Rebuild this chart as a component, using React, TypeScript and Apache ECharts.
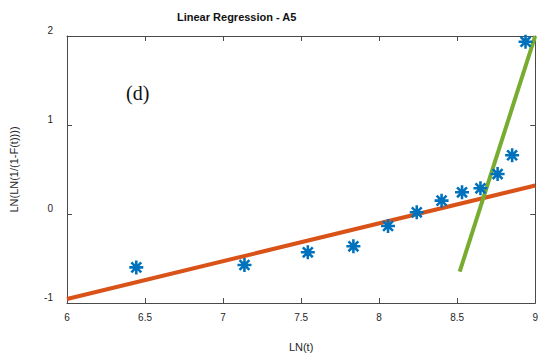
import React, { useEffect, useRef } from "react";
import * as echarts from "echarts";

const xTicks = [6, 6.5, 7, 7.5, 8, 8.5, 9];
const yTicks = [-1, 0, 1, 2];
const lnT = [6.444, 7.137, 7.543, 7.835, 8.057, 8.241, 8.4, 8.531, 8.649, 8.759, 8.852, 8.938];
const lnLnF = [-0.6, -0.573, -0.43, -0.363, -0.135, 0.019, 0.15, 0.244, 0.289, 0.449, 0.66, 1.936];
const fitAllX = [6, 9];
const fitAllY = [-0.955, 0.32];
const fitTailX = [8.516, 9.0];
const fitTailY = [-0.648, 2.0];

const asterisk =
  "path://M-1.1,-6L1.1,-6L1.1,6L-1.1,6Z M-6,-1.1L6,-1.1L6,1.1L-6,1.1Z " +
  "M-5.02,-3.47L-3.47,-5.02L5.02,3.47L3.47,5.02Z M3.47,-5.02L5.02,-3.47L-3.47,5.02L-5.02,3.47Z";

export default function App() {
  const ref = useRef<HTMLDivElement>(null);
  useEffect(() => {
    document.body.style.margin = "0";
    const chart = echarts.init(ref.current!, null, { renderer: "svg" });
    const font = "Liberation Sans, Arial, sans-serif";
    const axisLine = { show: true, onZero: false, lineStyle: { color: "#4a4a4a", width: 1 } };
    const tick = { show: true, inside: true, length: 5, lineStyle: { color: "#4a4a4a" } };
    chart.setOption({
      animation: false,
      backgroundColor: "#fff",
      title: {
        text: "Linear Regression - A5",
        left: 172,
        top: 6,
        textStyle: { fontFamily: font, fontSize: 11, fontWeight: "bold", color: "#111" },
      },
      grid: { left: 65, right: 3, top: 36, bottom: 55 },
      xAxis: [
        {
          type: "value",
          min: xTicks[0],
          max: xTicks[xTicks.length - 1],
          interval: 0.5,
          position: "bottom",
          axisLine,
          axisTick: tick,
          splitLine: { show: false },
          axisLabel: { fontFamily: font, fontSize: 10, color: "#262626", margin: 9 },
          name: "LN(t)",
          nameLocation: "middle",
          nameGap: 38,
          nameTextStyle: { fontFamily: font, fontSize: 11, color: "#262626" },
        },
        {
          type: "value",
          min: xTicks[0],
          max: xTicks[xTicks.length - 1],
          interval: 0.5,
          position: "top",
          axisLine,
          axisTick: tick,
          splitLine: { show: false },
          axisLabel: { show: false },
        },
      ],
      yAxis: [
        {
          type: "value",
          min: yTicks[0],
          max: yTicks[yTicks.length - 1],
          interval: 1,
          position: "left",
          axisLine,
          axisTick: tick,
          splitLine: { show: false },
          axisLabel: {
            fontFamily: font,
            fontSize: 10,
            color: "#262626",
            margin: 14,
            verticalAlign: "bottom",
            lineHeight: 12,
          },
          name: "LN(LN(1/(1-F(t))))",
          nameLocation: "middle",
          nameGap: 48,
          nameTextStyle: { fontFamily: font, fontSize: 11, color: "#262626" },
        },
        {
          type: "value",
          min: yTicks[0],
          max: yTicks[yTicks.length - 1],
          interval: 1,
          position: "right",
          axisLine,
          axisTick: tick,
          splitLine: { show: false },
          axisLabel: { show: false },
        },
      ],
      series: [
        {
          type: "line",
          data: fitAllX.map((x, i) => [x, fitAllY[i]]),
          showSymbol: false,
          lineStyle: { color: "#D95319", width: 4 },
          z: 3,
        },
        {
          type: "line",
          data: fitTailX.map((x, i) => [x, fitTailY[i]]),
          showSymbol: false,
          lineStyle: { color: "#77AC30", width: 4 },
          z: 3,
        },
        {
          type: "scatter",
          data: lnT.map((x, i) => [x, lnLnF[i]]),
          symbol: asterisk,
          symbolSize: 14,
          itemStyle: { color: "#0072BD", opacity: 1 },
          z: 4,
        },
      ],
      graphic: [
        {
          type: "text",
          left: 126,
          top: 83,
          style: { text: "(d)", font: "20px 'Liberation Serif', 'Times New Roman', serif", fill: "#111" },
        },
      ],
    });
    return () => chart.dispose();
  }, []);
  return <div ref={ref} style={{ width: 541, height: 358 }} />;
}
